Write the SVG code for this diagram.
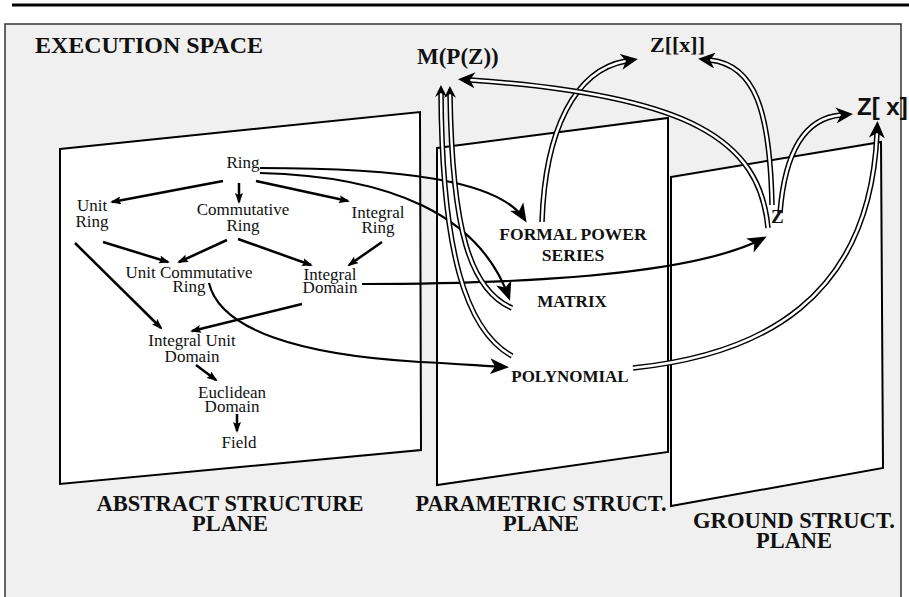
<svg xmlns="http://www.w3.org/2000/svg" width="909" height="597" viewBox="0 0 909 597">
<style>
.n{font-family:"Liberation Serif","Times New Roman",serif;font-size:17px;fill:#111;text-anchor:middle}
.b{font-family:"Liberation Serif","Times New Roman",serif;font-weight:bold;fill:#111}
.m{text-anchor:middle}
.sz{font-family:"Liberation Sans",Arial,sans-serif;font-weight:bold;fill:#111}
.s{fill:none;stroke:#000;stroke-width:2.5}
.c{fill:none;stroke:#000;stroke-width:2.2}
.do{fill:none;stroke:#000;stroke-width:5.5}
.di{fill:none;stroke:#fff;stroke-width:2.5}
.plane{fill:#fff;stroke:#000;stroke-width:2}
</style>
<defs>
<marker id="sa" markerUnits="userSpaceOnUse" markerWidth="12" markerHeight="8" refX="9" refY="4" orient="auto"><path d="M0,0 L11,4 L0,8 L2,4 z"/></marker>
<marker id="la" markerUnits="userSpaceOnUse" markerWidth="20" markerHeight="16" refX="16" refY="8" orient="auto"><path d="M0,0 L19,8 L0,16 L5,8 z"/></marker>
<marker id="da" markerUnits="userSpaceOnUse" markerWidth="18" markerHeight="16" refX="5" refY="8" orient="auto"><path d="M0,0 L17,8 L0,16 L5,8 z"/></marker>
<marker id="ds" markerUnits="userSpaceOnUse" markerWidth="13" markerHeight="12" refX="4" refY="6" orient="auto"><path d="M0,0 L12,6 L0,12 L4,6 z"/></marker>
</defs>

<line x1="12" y1="5" x2="909" y2="5" stroke="#000" stroke-width="3"/>
<rect x="5" y="24" width="896" height="590" fill="#f0f0f0" stroke="#333" stroke-width="1.5"/>
<text class="b" x="35" y="53" font-size="23" textLength="228" lengthAdjust="spacingAndGlyphs">EXECUTION SPACE</text>

<g id="abstract-plane">
<path class="plane" d="M60,149 L420,112 L421,450 L60,484 Z"/>
<text class="b m" x="230" y="511" font-size="23" textLength="267" lengthAdjust="spacingAndGlyphs">ABSTRACT STRUCTURE</text>
<text class="b m" x="230" y="531" font-size="23" textLength="76" lengthAdjust="spacingAndGlyphs">PLANE</text>
</g>
<g id="parametric-plane">
<path class="plane" d="M437,148 L668,118 L668,452 L437,485 Z"/>
<text class="b m" x="541" y="511" font-size="23" textLength="251" lengthAdjust="spacingAndGlyphs">PARAMETRIC STRUCT.</text>
<text class="b m" x="541" y="531" font-size="23" textLength="76" lengthAdjust="spacingAndGlyphs">PLANE</text>
</g>
<g id="ground-plane">
<path class="plane" d="M671,177 L881,142 L883,468 L671,506 Z"/>
<text class="b m" x="794" y="528" font-size="23" textLength="202" lengthAdjust="spacingAndGlyphs">GROUND STRUCT.</text>
<text class="b m" x="794" y="548" font-size="23" textLength="76" lengthAdjust="spacingAndGlyphs">PLANE</text>
</g>

<g id="connectors">
<g id="abstract-edges">
<path class="s" marker-end="url(#sa)" d="M223,181 L112,202"/>
<path class="s" marker-end="url(#sa)" d="M239,183 L239,202"/>
<path class="s" marker-end="url(#sa)" d="M256,181 L348,201"/>
<path class="s" marker-end="url(#sa)" d="M103,242 L168,262"/>
<path class="s" marker-end="url(#sa)" d="M227,240 L179,262"/>
<path class="s" marker-end="url(#sa)" d="M238,239 L311,265"/>
<path class="s" marker-end="url(#sa)" d="M382,242 L349,265"/>
<path class="s" marker-end="url(#sa)" d="M75,243 L161,328"/>
<path class="s" marker-end="url(#sa)" d="M302,304 L192,331"/>
<path class="s" marker-end="url(#sa)" d="M196,365 L216,380"/>
<path class="s" marker-end="url(#sa)" d="M237,414 L237,431"/>
</g>
<g id="cross-edges">
<path class="c" marker-end="url(#la)" d="M260,168 C400,168 500,180 525,220"/>
<path class="c" marker-end="url(#la)" d="M260,173 C390,176 480,215 509,298"/>
<path class="c" marker-end="url(#la)" d="M362,284 C550,284 700,272 764,238"/>
<path class="c" marker-end="url(#la)" d="M209,283 C220,330 300,355 420,362 C460,364 485,366 506,367"/>
</g>
<g id="double-edges">
<path class="do" d="M512,356 C465,330 442,250 441,93"/>
<path class="di" marker-end="url(#ds)" d="M512,356 C465,330 442,250 441,93"/>
<path class="do" d="M512,308 C470,290 452,230 450,94"/>
<path class="di" marker-end="url(#ds)" d="M512,308 C470,290 452,230 450,94"/>
<path class="do" d="M542,222 C545,130 575,70 626,61"/>
<path class="di" marker-end="url(#da)" d="M542,222 C545,130 575,70 626,61"/>
<path class="do" d="M768,228 C760,140 690,95 470,80"/>
<path class="di" marker-end="url(#da)" d="M768,228 C760,140 690,95 470,80"/>
<path class="do" d="M772,205 C770,110 755,65 710,60"/>
<path class="di" marker-end="url(#da)" d="M772,205 C770,110 755,65 710,60"/>
<path class="do" d="M780,213 C785,150 805,118 841,115"/>
<path class="di" marker-end="url(#da)" d="M780,213 C785,150 805,118 841,115"/>
<path class="do" d="M633,368 C760,355 870,300 877,133"/>
<path class="di" marker-end="url(#da)" d="M633,368 C760,355 870,300 877,133"/>
</g>
</g>

<g id="node-ring"><text class="n" x="243" y="168">Ring</text></g>
<g id="node-unit-ring"><text class="n" x="92" y="211">Unit</text><text class="n" x="92" y="227">Ring</text></g>
<g id="node-commutative-ring"><text class="n" x="243" y="215">Commutative</text><text class="n" x="243" y="231">Ring</text></g>
<g id="node-integral-ring"><text class="n" x="378" y="218">Integral</text><text class="n" x="378" y="233">Ring</text></g>
<g id="node-unit-commutative-ring"><text class="n" x="189" y="278">Unit Commutative</text><text class="n" x="189" y="292">Ring</text></g>
<g id="node-integral-domain"><text class="n" x="330" y="280">Integral</text><text class="n" x="330" y="293">Domain</text></g>
<g id="node-integral-unit-domain"><text class="n" x="192" y="346">Integral Unit</text><text class="n" x="192" y="362">Domain</text></g>
<g id="node-euclidean-domain"><text class="n" x="232" y="398">Euclidean</text><text class="n" x="232" y="412">Domain</text></g>
<g id="node-field"><text class="n" x="239" y="448">Field</text></g>

<g id="node-fps"><text class="b m" x="573" y="240" font-size="17.5">FORMAL POWER</text><text class="b m" x="573" y="261" font-size="17.5">SERIES</text></g>
<g id="node-matrix"><text class="b m" x="572" y="307" font-size="17">MATRIX</text></g>
<g id="node-polynomial"><text class="b m" x="570" y="382" font-size="17">POLYNOMIAL</text></g>
<g id="node-z"><text class="b" x="771" y="223" font-size="19">Z</text></g>
<g id="node-mpz"><text class="b" x="417" y="64" font-size="23">M(P(Z))</text></g>
<g id="node-zxx"><text class="b" x="650" y="52" font-size="22">Z[[x]]</text></g>
<g id="node-zx"><text class="sz" x="857" y="115" font-size="24">Z[ x]</text></g>
</svg>
